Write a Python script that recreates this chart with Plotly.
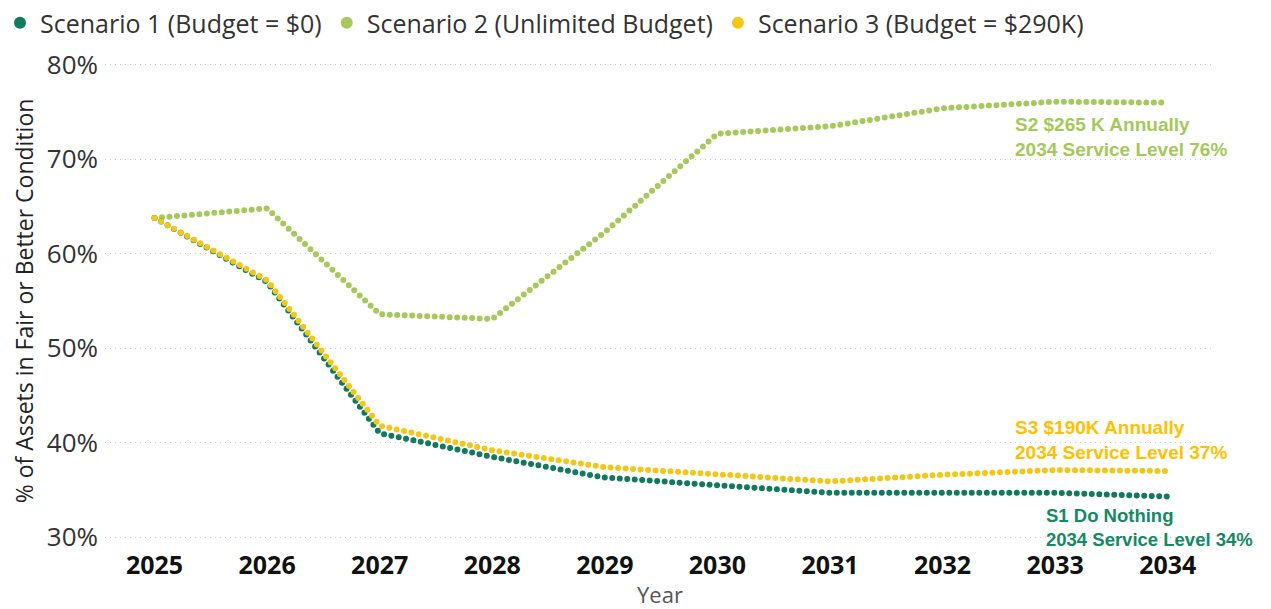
import plotly.graph_objects as go

# Share of assets in fair or better condition, by scenario
years = [2025, 2026, 2027, 2028, 2029, 2030, 2031, 2032, 2033, 2034]
s1_do_nothing = [63.8, 57.0, 41.0, 38.5, 36.3, 35.5, 34.7, 34.7, 34.7, 34.3]
s2_unlimited = [63.8, 64.8, 53.6, 53.1, 62.3, 72.7, 73.5, 75.4, 76.1, 76.0]
s3_290k = [63.8, 57.2, 41.8, 39.2, 37.4, 36.7, 35.9, 36.6, 37.1, 37.0]

series_names = [
    "Scenario 1 (Budget = $0)",
    "Scenario 2 (Unlimited Budget)",
    "Scenario 3 (Budget = $290K)",
]
line_colors = ["#10795E", "#A7C85A", "#F2C716"]
label_colors = ["#138A64", "#A5C85A", "#FFC000"]
label_lines = [
    ("S1 Do Nothing", "2034 Service Level 34%"),
    ("S2 $265 K Annually", "2034 Service Level 76%"),
    ("S3 $190K Annually", "2034 Service Level 37%"),
]
y_ticks = [30, 40, 50, 60, 70, 80]
y_tick_text = ["30%", "40%", "50%", "60%", "70%", "80%"]

fig = go.Figure()

# Legend entries drawn as round markers
for name, color in zip(series_names, line_colors):
    fig.add_trace(go.Scatter(
        x=[None], y=[None], mode="markers", name=name,
        marker=dict(color=color, size=12), showlegend=True,
    ))

# Dotted series lines (S3 drawn last so it sits on top)
for values, color in zip([s2_unlimited, s1_do_nothing, s3_290k],
                         [line_colors[1], line_colors[0], line_colors[2]]):
    fig.add_trace(go.Scatter(
        x=years, y=values, mode="lines", showlegend=False, hoverinfo="skip",
        line=dict(color=color, width=6, dash="0px,7.5px"),
    ))

# End-of-line callouts (yshift is positive upwards)
callouts = [
    (s2_unlimited[-1], label_lines[1], label_colors[1], -154, -34, 19),
    (s3_290k[-1], label_lines[2], label_colors[2], -154, 31, 19),
    (s1_do_nothing[-1], label_lines[0], label_colors[0], -123, -31, 18.5),
]
for yv, (l1, l2), color, dx, dy, fs in callouts:
    fig.add_annotation(
        x=years[-1], y=yv, xref="x", yref="y",
        text=f"{l1}<br>{l2}", showarrow=False, align="left",
        xanchor="left", yanchor="middle", xshift=dx, yshift=dy, borderpad=0,
        font=dict(family="Liberation Sans", size=fs, color=color, weight="bold"),
    )

fig.update_layout(
    width=1271, height=609,
    margin=dict(l=105, r=56, t=63, b=70, autoexpand=False),
    paper_bgcolor="white", plot_bgcolor="white",
    font=dict(family="Open Sans", color="#333333"),
    legend=dict(
        orientation="h", xref="container", yref="container",
        x=-10 / 1271, y=1.0, xanchor="left", yanchor="top",
        font=dict(size=25, color="#333333"), itemwidth=30,
        bgcolor="rgba(0,0,0,0)", tracegroupgap=0,
    ),
    xaxis=dict(
        range=[2024.56, 2034.42], tickvals=years,
        ticktext=[str(y) for y in years],
        tickfont=dict(size=25, color="#111111", weight="bold"),
        showgrid=False, zeroline=False, showline=False, ticks="",
        ticklabelstandoff=9,
        title=dict(text="Year", font=dict(size=22, color="#555555"), standoff=15),
    ),
    yaxis=dict(
        range=[29.8, 80.2], tickvals=y_ticks, ticktext=y_tick_text,
        tickfont=dict(size=26, color="#333333"),
        showgrid=True, gridcolor="#C8C8C8", gridwidth=1, griddash="1px,4px",
        zeroline=False, showline=False, ticks="", ticklabelstandoff=6,
        title=dict(text="% of Assets in Fair or Better Condition",
                   font=dict(size=23, color="#222222"), standoff=6),
    ),
)

# Round line caps turn the zero-length dashes into dots
post = (
    "var st=document.createElement('style');"
    "st.textContent='.scatterlayer .js-line{stroke-linecap:round;}';"
    "document.head.appendChild(st);"
)
fig.write_html("out.html", post_script=post)
